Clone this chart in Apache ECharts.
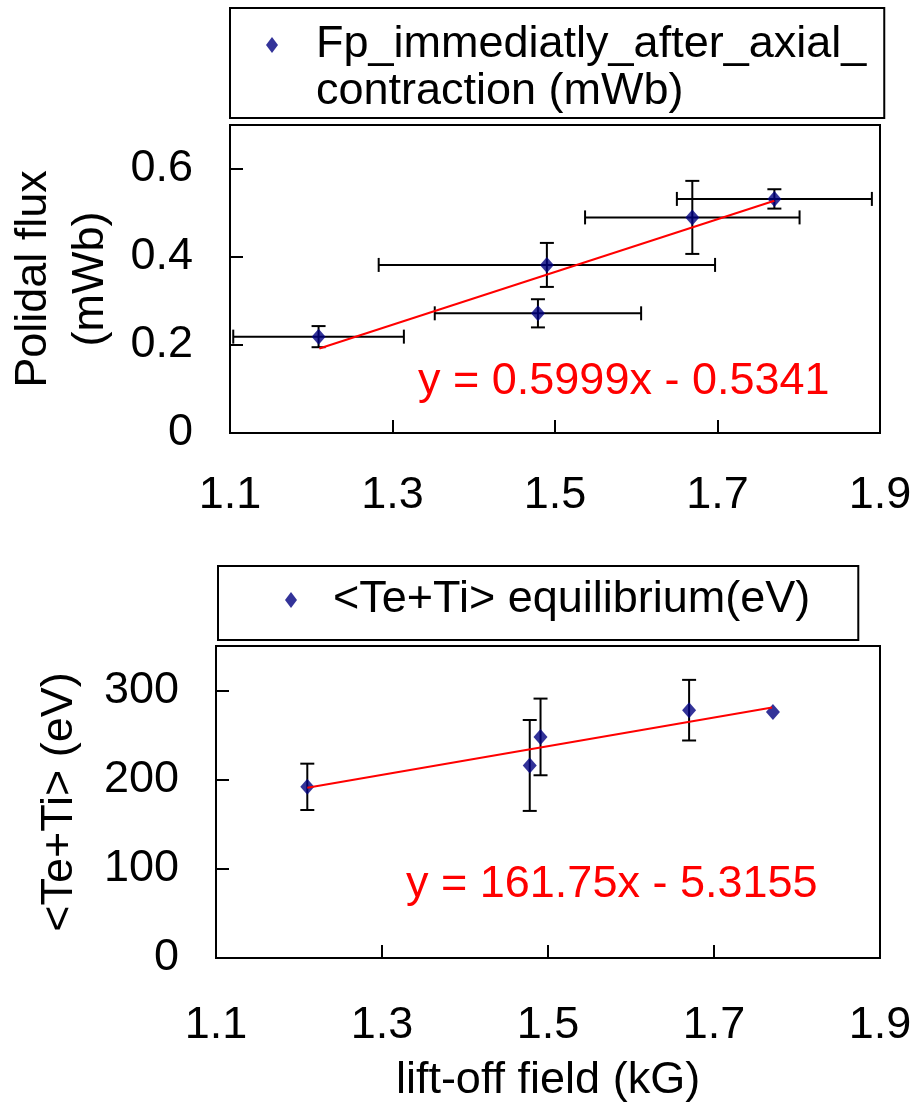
<!DOCTYPE html>
<html><head><meta charset="utf-8">
<script src="https://cdn.jsdelivr.net/npm/echarts@6/dist/echarts.min.js"></script>
<style>html,body{margin:0;padding:0;background:#fff}#c{width:912px;height:1110px}</style>
</head><body><div id="c"></div>
<script>
// ---- data ----
const fluxName = 'Fp_immediatly_after_axial_contraction (mWb)';
const fluxX    = [1.209, 1.479, 1.490, 1.669, 1.770];
const fluxY    = [0.219, 0.272, 0.382, 0.490, 0.532];
const fluxXErr = [0.105, 0.127, 0.207, 0.132, 0.120];
const fluxYErr = [0.024, 0.032, 0.050, 0.083, 0.022];
const fluxTrendX = [1.21, 1.77];
const fluxTrendY = [0.192, 0.528];
const fluxEq = 'y = 0.5999x - 0.5341';

const tempName = '<Te+Ti> equilibrium(eV)';
const tempX    = [1.210, 1.478, 1.491, 1.670, 1.771];
const tempY    = [192, 216, 248, 278, 276];
const tempXErr = [0, 0, 0, 0, 0];
const tempYErr = [26, 51, 43, 34, 0];
const tempTrendX = [1.21, 1.77];
const tempTrendY = [191, 281];
const tempEq = 'y = 161.75x - 5.3155';

const xTickLabels = ['1.1', '1.3', '1.5', '1.7', '1.9'];
const fluxTickLabels = ['0', '0.2', '0.4', '0.6'];
const tempTickLabels = ['0', '100', '200', '300'];

// ---- chart ----
const FONT = '"Liberation Sans", Arial, sans-serif';
const FS = 45;
const chart = echarts.init(document.getElementById('c'), null, {renderer: 'canvas'});

function zip(...arrs) { return arrs[0].map((_, i) => arrs.map(a => a[i])); }

function errRender(params, api) {
  const x = api.value(0), y = api.value(1), ex = api.value(2), ey = api.value(3);
  const st = {stroke: '#000', lineWidth: 2};
  const cap = 7;
  const ch = [];
  if (ey > 0) {
    const t = api.coord([x, y + ey]), b = api.coord([x, y - ey]);
    ch.push({type: 'line', shape: {x1: t[0], y1: t[1], x2: b[0], y2: b[1]}, style: st});
    ch.push({type: 'line', shape: {x1: t[0] - cap, y1: t[1], x2: t[0] + cap, y2: t[1]}, style: st});
    ch.push({type: 'line', shape: {x1: b[0] - cap, y1: b[1], x2: b[0] + cap, y2: b[1]}, style: st});
  }
  if (ex > 0) {
    const l = api.coord([x - ex, y]), r = api.coord([x + ex, y]);
    ch.push({type: 'line', shape: {x1: l[0], y1: l[1], x2: r[0], y2: r[1]}, style: st});
    ch.push({type: 'line', shape: {x1: l[0], y1: l[1] - cap, x2: l[0], y2: l[1] + cap}, style: st});
    ch.push({type: 'line', shape: {x1: r[0], y1: r[1] - cap, x2: r[0], y2: r[1] + cap}, style: st});
  }
  return {type: 'group', children: ch};
}

function xAxisDef(gridIndex, extra) {
  return Object.assign({
    type: 'value', gridIndex, min: 1.1, max: 1.9, interval: 0.2,
    axisLine: {lineStyle: {color: '#000', width: 2}},
    axisTick: {inside: true, length: 13, lineStyle: {color: '#000', width: 2}},
    splitLine: {show: false},
    axisLabel: {
      margin: 40, fontSize: FS, fontFamily: FONT, color: '#000',
      formatter: v => xTickLabels[Math.round((v - 1.1) / 0.2)] || ''
    }
  }, extra || {});
}

function yAxisDef(gridIndex, max, interval, labels, extra) {
  return Object.assign({
    type: 'value', gridIndex, min: 0, max, interval,
    axisLine: {show: true, lineStyle: {color: '#000', width: 2}},
    axisTick: {show: true, inside: true, length: 13, lineStyle: {color: '#000', width: 2}},
    splitLine: {show: false},
    axisLabel: {
      margin: 37, fontSize: FS, fontFamily: FONT, color: '#000', showMaxLabel: false,
      formatter: v => { const i = Math.round(v / interval); return (Math.abs(v - i * interval) < 1e-9 && labels[i] !== undefined) ? labels[i] : ''; }
    },
    nameLocation: 'middle', nameRotate: 90,
    nameTextStyle: {fontSize: FS, fontFamily: FONT, color: '#000'}
  }, extra || {});
}

const legendRich = {a: {fontSize: FS, fontFamily: FONT, color: '#000', lineHeight: 47}};

const option = {
  backgroundColor: '#fff',
  animation: false,
  textStyle: {fontFamily: FONT},
  grid: [
    {left: 230, top: 125, width: 650, height: 308, show: true, borderColor: '#000', borderWidth: 2,
      backgroundColor: '#fff', containLabel: false, outerBoundsMode: 'none'},
    {left: 216, top: 646, width: 664, height: 312, show: true, borderColor: '#000', borderWidth: 2,
      backgroundColor: '#fff', containLabel: false, outerBoundsMode: 'none'}
  ],
  xAxis: [
    xAxisDef(0),
    xAxisDef(1, {name: 'lift-off field (kG)', nameLocation: 'middle', nameGap: 100,
      nameTextStyle: {fontSize: FS, fontFamily: FONT, color: '#000'},
      axisLabel: {margin: 45, fontSize: FS, fontFamily: FONT, color: '#000',
        formatter: v => xTickLabels[Math.round((v - 1.1) / 0.2)] || ''}})
  ],
  yAxis: [
    yAxisDef(0, 0.7, 0.2, fluxTickLabels, {name: 'Polidal flux\n(mWb)', nameGap: 107,
      nameTextStyle: {fontSize: FS, fontFamily: FONT, color: '#000', lineHeight: 57}}),
    yAxisDef(1, 350, 100, tempTickLabels, {name: '<Te+Ti> (eV)', nameGap: 134})
  ],
  legend: [
    {
      data: [fluxName], left: 230, top: 8, orient: 'vertical', selectedMode: false,
      padding: [-33.5, 18, 2.5, 36], borderColor: '#000', borderWidth: 2, backgroundColor: '#fff',
      itemWidth: 12, itemHeight: 16,
      formatter: () => '{a|Fp_immediatly_after_axial_}\n{a|contraction (mWb)}',
      textStyle: {fontSize: FS, fontFamily: FONT, color: '#000', lineHeight: 47, padding: [47, 0, 0, 33], rich: legendRich}
    },
    {
      data: [tempName], left: 218, top: 566, orient: 'vertical', selectedMode: false,
      padding: [10.5, 48, 16.5, 67], borderColor: '#000', borderWidth: 2, backgroundColor: '#fff',
      itemWidth: 12, itemHeight: 16,
      textStyle: {fontSize: FS, fontFamily: FONT, color: '#000', lineHeight: 47, padding: [0, 0, 0, 31]}
    }
  ],
  series: [
    {type: 'custom', name: 'flux error', xAxisIndex: 0, yAxisIndex: 0, renderItem: errRender,
      data: zip(fluxX, fluxY, fluxXErr, fluxYErr), encode: {x: 0, y: 1}, z: 1, silent: true},
    {type: 'scatter', name: fluxName, xAxisIndex: 0, yAxisIndex: 0, symbol: 'diamond', symbolSize: [14, 16],
      itemStyle: {color: '#000080'}, data: zip(fluxX, fluxY), z: 2},
    {type: 'line', name: 'flux trend', xAxisIndex: 0, yAxisIndex: 0, showSymbol: false, symbol: 'none',
      lineStyle: {color: '#ff0000', width: 2}, data: zip(fluxTrendX, fluxTrendY), z: 3, silent: true},
    {type: 'custom', name: 'temp error', xAxisIndex: 1, yAxisIndex: 1, renderItem: errRender,
      data: zip(tempX, tempY, tempXErr, tempYErr), encode: {x: 0, y: 1}, z: 1, silent: true},
    {type: 'scatter', name: tempName, xAxisIndex: 1, yAxisIndex: 1, symbol: 'diamond', symbolSize: [14, 16],
      itemStyle: {color: '#000080'}, data: zip(tempX, tempY), z: 2},
    {type: 'line', name: 'temp trend', xAxisIndex: 1, yAxisIndex: 1, showSymbol: false, symbol: 'none',
      lineStyle: {color: '#ff0000', width: 2}, data: zip(tempTrendX, tempTrendY), z: 3, silent: true}
  ],
  graphic: [
    {type: 'text', x: 418, y: 382, z: 100,
      style: {text: fluxEq, fill: '#ff0000', font: FS + 'px ' + FONT, verticalAlign: 'middle', align: 'left'}},
    {type: 'text', x: 406, y: 885, z: 100,
      style: {text: tempEq, fill: '#ff0000', font: FS + 'px ' + FONT, verticalAlign: 'middle', align: 'left'}}
  ]
};
chart.setOption(option);
</script>
</body></html>
